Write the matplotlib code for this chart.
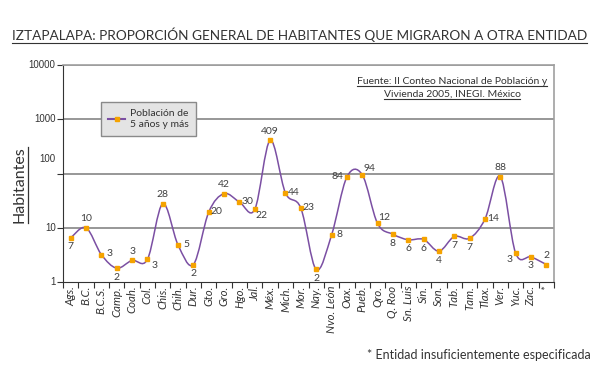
import numpy as np
import matplotlib
matplotlib.use("Agg")
import matplotlib.pyplot as plt
from matplotlib.path import Path
from matplotlib.patches import PathPatch
from matplotlib.lines import Line2D
from matplotlib.transforms import blended_transform_factory, ScaledTranslation

entidades = ["Ags.", "B.C.", "B.C.S.", "Camp.", "Coah.", "Col.", "Chis.", "Chih.",
             "Dur.", "Gto.", "Gro.", "Hgo.", "Jal.", "Méx.", "Mich.", "Mor.",
             "Nay.", "Nvo. León", "Oax.", "Pueb.", "Qro.", "Q. Roo", "Sn. Luis", "Sin.",
             "Son.", "Tab.", "Tam.", "Tlax.", "Ver.", "Yuc.", "Zac.", "*"]
valores = [6.5, 10, 3.2, 1.8, 2.5, 2.6, 27.8, 4.8,
           2.1, 19.5, 42.6, 29.8, 21.8, 409, 43.7, 23,
           1.7, 7.3, 86, 95, 12, 7.6, 6.0, 6.1,
           3.7, 6.9, 6.4, 14.4, 88, 3.4, 2.9, 2.1]
etiquetas = ["7", "10", "3", "2", "3", "3", "28", "5",
             "2", "20", "42", "30", "22", "409", "44", "23",
             "2", "8", "84", "94", "12", "8", "6", "6",
             "4", "7", "7", "14", "88", "3", "3", "2"]
# donde va cada etiqueta respecto al punto
lugar = ["b", "a", "r", "b", "a", "br", "a", "r",
         "b", "r", "a", "r", "br", "a", "r", "r",
         "b", "r", "l", "ar", "ar", "b", "b", "b",
         "b", "b", "b", "r", "a", "bl", "b", "a"]
yticks = [1, 10, 100, 1000, 10000]

morado = "#7b4fa3"
naranja = "#f5a300"
gris = "#333333"
fuente = "Lato"

fig = plt.figure(figsize=(6, 3.74), dpi=100)
ax = fig.add_axes([63 / 600, 1 - 282 / 374, 491 / 600, 217 / 374])

n = len(valores)
x = np.arange(n)
ly = np.log10(valores)

# curva suavizada tipo Excel (bezier entre puntos)
verts = [(x[0], valores[0])]
codes = [Path.MOVETO]
for i in range(n - 1):
    x0, y0 = (x[i - 1], ly[i - 1]) if i > 0 else (x[i], ly[i])
    x3, y3 = (x[i + 2], ly[i + 2]) if i + 2 < n else (x[i + 1], ly[i + 1])
    c1 = (x[i] + (x[i + 1] - x0) / 6, ly[i] + (ly[i + 1] - y0) / 6)
    c2 = (x[i + 1] - (x3 - x[i]) / 6, ly[i + 1] - (y3 - ly[i]) / 6)
    verts += [(c1[0], 10 ** c1[1]), (c2[0], 10 ** c2[1]), (x[i + 1], valores[i + 1])]
    codes += [Path.CURVE4] * 3
ax.add_patch(PathPatch(Path(verts, codes), fill=False, edgecolor=morado, lw=1.1, zorder=3))
ax.plot(x, valores, ls="none", marker="s", ms=3, color=naranja, zorder=4)

ax.set_yscale("log")
ax.set_ylim(1, 10000)
ax.set_xlim(-0.5, n - 0.5)
ax.minorticks_off()
ax.set_yticks(yticks)
ax.set_yticklabels([])
ax.tick_params(axis="y", length=4, color=gris)
ax.set_xticks(np.arange(n + 1) - 0.5)
ax.set_xticklabels([])
ax.tick_params(axis="x", length=4, color=gris)
for v in yticks[1:]:
    ax.axhline(v, color="#8f8f8f", lw=1.3, zorder=1)
for s in ["left", "bottom"]:
    ax.spines[s].set_color(gris)
for s in ["top", "right"]:
    ax.spines[s].set_color("#a0a0a0")
    ax.spines[s].set_linewidth(1.2)

# etiquetas del eje y (el 100 va algo desplazado como en el original)
tr = blended_transform_factory(ax.transAxes, ax.transData)
for v in yticks:
    t = tr
    if v == 100:
        t = tr + ScaledTranslation(0, 14 / 100, fig.dpi_scale_trans)
    ax.text(-0.015, v, str(v), transform=t, ha="right", va="center",
            fontsize=7, family="Liberation Sans", color=gris)

# etiquetas del eje x
for i, e in enumerate(entidades):
    ax.text(i, -0.018, e, transform=blended_transform_factory(ax.transData, ax.transAxes),
            rotation=90, ha="center", va="top", fontsize=8.2, style="italic",
            family=fuente, color=gris, clip_on=False)

desp = {"a": (0, 9), "b": (0, -9), "r": (8, 1), "l": (-9, 1),
        "br": (7, -6), "bl": (-6, -6), "ar": (7, 6)}
for i in range(n):
    dx, dy = desp[lugar[i]]
    ax.annotate(etiquetas[i], (x[i], valores[i]), xytext=(dx, dy),
                textcoords="offset pixels", ha="center", va="center",
                fontsize=7.5, family=fuente, color="#404040", zorder=5)

leg = ax.legend([Line2D([], [], color=morado, marker="s", ms=3, mfc=naranja, mec=naranja)],
                ["Población de\n5 años y más"], loc="upper left",
                bbox_to_anchor=(101 / 600, 1 - 102 / 374), bbox_transform=fig.transFigure,
                borderaxespad=0, fancybox=False, framealpha=1, facecolor="#e4e4e4",
                edgecolor="#8a8a8a", handlelength=1.6, handletextpad=0.5, borderpad=0.7,
                prop={"family": fuente, "size": 7.5})
leg.get_frame().set_linewidth(1.0)
for t in leg.get_texts():
    t.set_color(gris)

titulo = fig.text(12 / 600, 1 - 35 / 374,
                  "IZTAPALAPA: PROPORCIÓN GENERAL DE HABITANTES QUE MIGRARON A OTRA ENTIDAD",
                  ha="left", va="center", fontsize=9.8, family=fuente, color=gris)
ylab = fig.text(20 / 600, 1 - 185 / 374, "Habitantes", rotation=90, ha="center", va="center",
                fontsize=11.5, family=fuente, color=gris)
f1 = fig.text(452 / 600, 1 - 81 / 374, "Fuente: II Conteo Nacional de Población y",
              ha="center", va="center", fontsize=7.5, family=fuente, color=gris)
f2 = fig.text(452 / 600, 1 - 94 / 374, "Vivienda 2005, INEGI. México",
              ha="center", va="center", fontsize=7.5, family=fuente, color=gris)
fig.text(591 / 600, 1 - 355 / 374, "* Entidad insuficientemente especificada",
         ha="right", va="center", fontsize=9, family=fuente, color=gris)

# subrayados
fig.canvas.draw()
r = fig.canvas.get_renderer()
for t in [titulo, f1, f2]:
    bb = t.get_window_extent(r)
    y = bb.y0 - 0.5
    fig.add_artist(Line2D([bb.x0 / 600, bb.x1 / 600], [y / 374, y / 374],
                          color=gris, lw=0.8))
bb = ylab.get_window_extent(r)
fig.add_artist(Line2D([(bb.x1 + 1) / 600] * 2, [bb.y0 / 374, bb.y1 / 374], color=gris, lw=0.9))

fig.savefig("out.png", dpi=100)
